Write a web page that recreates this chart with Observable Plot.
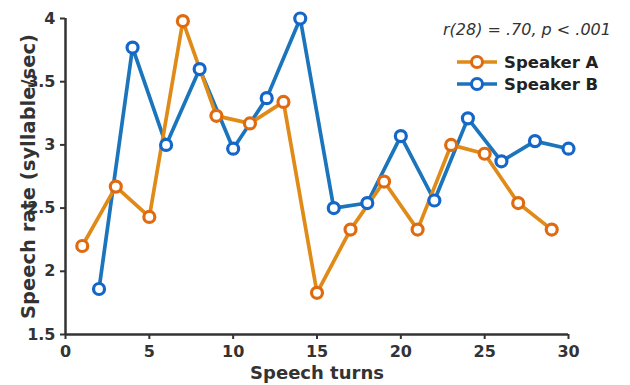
<!DOCTYPE html>
<html><head><meta charset="utf-8">
<script src="https://cdn.jsdelivr.net/npm/d3@7"></script>
<script src="https://cdn.jsdelivr.net/npm/@observablehq/plot@0.6"></script>
<style>
body{margin:0;background:#fff;font-family:"DejaVu Sans",sans-serif;}
#wrap{position:relative;width:630px;height:385px;}
#legend{position:absolute;left:0;top:0;font-family:"DejaVu Sans",sans-serif;color:#222;}
#legend .stat{position:absolute;left:443px;top:19px;white-space:nowrap;font-style:italic;font-size:16px;line-height:22px;color:#333;}
#legend .row{position:absolute;left:455px;display:flex;align-items:center;height:22px;white-space:nowrap;font-weight:bold;font-size:16.5px;color:#222;}
#legend svg{margin-right:5px;}
</style></head>
<body><div id="wrap"><div id="legend"></div></div>
<script>
const turnsA = [1,3,5,7,9,11,13,15,17,19,21,23,25,27,29];
const rateA  = [2.20,2.67,2.43,3.98,3.23,3.17,3.34,1.83,2.33,2.71,2.33,3.00,2.93,2.54,2.33];
const turnsB = [2,4,6,8,10,12,14,16,18,20,22,24,26,28,30];
const rateB  = [1.86,3.77,3.00,3.60,2.97,3.37,4.00,2.50,2.54,3.07,2.56,3.21,2.87,3.03,2.97];
const speakers = ["Speaker A","Speaker B"];
const colors = ["#E08A17","#1A75BC"];
const markerEdges = ["#E06A10","#1466C8"];
const xTicks = [0,5,10,15,20,25,30];
const yTicks = [1.5,2,2.5,3,3.5,4];
const yTickLabels = ["1.5","2","2.5","3","3.5","4"];
const statText = "r(28) = .70, p < .001";

const dataA = turnsA.map((t,i)=>({turn:t, rate:rateA[i]}));
const dataB = turnsB.map((t,i)=>({turn:t, rate:rateB[i]}));
const yFmt = (d)=>yTickLabels[yTicks.indexOf(d)];

const chart = Plot.plot({
  width: 630, height: 385,
  marginLeft: 65, marginRight: 62, marginTop: 18, marginBottom: 51,
  style: {fontFamily: "DejaVu Sans, sans-serif", fontSize: "16px", fontWeight: "bold", color: "#333", overflow: "visible"},
  x: {domain: [0,30], label: null},
  y: {domain: [1.5,4], label: null},
  marks: [
    Plot.axisX({ticks: xTicks, tickSize: 5, tickPadding: 6, strokeWidth: 2, label: null}),
    Plot.axisY({ticks: yTicks, tickSize: 5, tickPadding: 5, strokeWidth: 2, tickFormat: yFmt, label: null}),
    Plot.ruleY([1.5], {stroke: "#333", strokeWidth: 2.5}),
    Plot.ruleX([0], {stroke: "#333", strokeWidth: 2.5}),
    Plot.line(dataB, {x:"turn", y:"rate", stroke: colors[1], strokeWidth: 3.7}),
    Plot.line(dataA, {x:"turn", y:"rate", stroke: colors[0], strokeWidth: 3.7}),
    Plot.dot(dataB, {x:"turn", y:"rate", r: 5.5, fill: "white", stroke: markerEdges[1], strokeWidth: 3.2}),
    Plot.dot(dataA, {x:"turn", y:"rate", r: 5.5, fill: "white", stroke: markerEdges[0], strokeWidth: 3.2}),
    Plot.text(["Speech turns"], {frameAnchor: "bottom", dy: 44, fontSize: 18, fontWeight: "bold", fill: "#333"}),
    Plot.text(["Speech rate (syllable/sec)"], {frameAnchor: "left", textAnchor: "middle", dx: -37, rotate: -90, fontSize: 19.5, fontWeight: "bold", fill: "#333"})
  ]
});
document.getElementById("wrap").prepend(chart);

const legend = document.getElementById("legend");
const stat = document.createElement("div");
stat.className = "stat"; stat.textContent = statText;
legend.appendChild(stat);
speakers.forEach((s,i)=>{
  const row = document.createElement("div"); row.className = "row";
  row.style.top = (51 + i*22) + "px";
  row.innerHTML = `<svg width="44" height="16"><line x1="2" y1="8" x2="42" y2="8" stroke="${colors[i]}" stroke-width="3.5"/><circle cx="22" cy="8" r="5.5" fill="white" stroke="${markerEdges[i]}" stroke-width="3"/></svg><span>${s}</span>`;
  legend.appendChild(row);
});
</script></body></html>
